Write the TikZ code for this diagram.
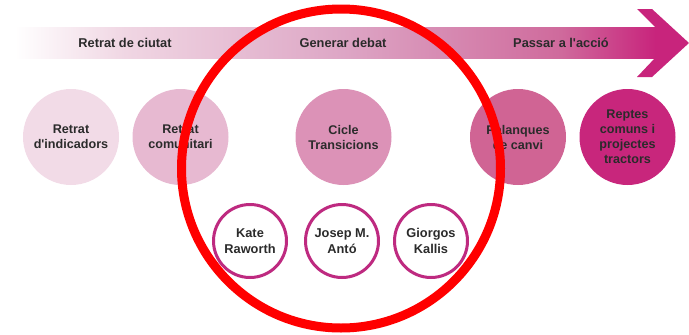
\documentclass[tikz,border=0pt]{standalone}
\usepackage{fontspec}
\setmainfont{Liberation Sans}
\definecolor{txt}{HTML}{2B2B2B}
\definecolor{cA}{HTML}{F2DBE7}
\definecolor{cB}{HTML}{E7B9D1}
\definecolor{cC}{HTML}{DC92B7}
\definecolor{cD}{HTML}{D06494}
\definecolor{cE}{HTML}{C8267C}
\definecolor{ring}{HTML}{BE2A80}
\definecolor{sA}{HTML}{F0D6E3}
\definecolor{sB}{HTML}{DDA6C5}
\definecolor{sC}{HTML}{CF6A9C}
\definecolor{sD}{HTML}{C8247C}
\pgfdeclarehorizontalshading{bandshade}{100bp}{color(0bp)=(white); color(25bp)=(white); color(33.6bp)=(sA); color(50.6bp)=(sB); color(67.6bp)=(sC); color(75bp)=(sD); color(100bp)=(sD)}
\begin{document}
\begin{tikzpicture}[x=1pt,y=-1pt,
  bigc/.style={circle,minimum size=96pt,inner sep=0pt,align=center,text=txt,font=\bfseries\fontsize{12.6}{15}\selectfont},
  ringc/.style={circle,minimum size=73pt,inner sep=0pt,draw=ring,line width=3pt,fill=white,align=center,text=txt,font=\bfseries\fontsize{12.8}{15.7}\selectfont},
  bandlbl/.style={text=txt,font=\bfseries\fontsize{12.8}{15}\selectfont,inner sep=0pt}]
\useasboundingbox (0,0) rectangle (689,335);
% band
\shade[shading=bandshade] (15,27) rectangle (655.5,58);
\fill[sD] (655,27) -- (637,9) -- (652,9) -- (689,43) -- (652,77) -- (637,77) -- (655,58) -- cycle;
\node[bandlbl] (l1) at (125,43) {Retrat de ciutat};
\node[bandlbl] (l2) at (343,43) {Generar debat};
\node[bandlbl] (l3) at (561,43) {Passar a l\textquotesingle acció};
% big circles
\node[bigc,fill=cA] (c1) at (71,137) {Retrat\\d\textquotesingle indicadors};
\node[bigc,fill=cB] (c2) at (180.5,137) {Retrat\\comunitari};
\node[bigc,fill=cC] (c3) at (343.5,137) {Cicle\\Transicions};
\node[bigc,fill=cD] (c4) at (518,137) {Palanques\\de canvi};
\node[bigc,fill=cE] (c5) at (627.5,137) {Reptes\\comuns i\\projectes\\tractors};
% ring circles
\node[ringc] (p1) at (250,241) {Kate\\Raworth};
\node[ringc] (p2) at (342,241) {Josep M.\\Antó};
\node[ringc] (p3) at (431,241) {Giorgos\\Kallis};
% red highlight
\coordinate (rc) at (341,168.5);
\draw[red,line width=9pt] (rc) circle[radius=159.5];
\end{tikzpicture}
\end{document}
